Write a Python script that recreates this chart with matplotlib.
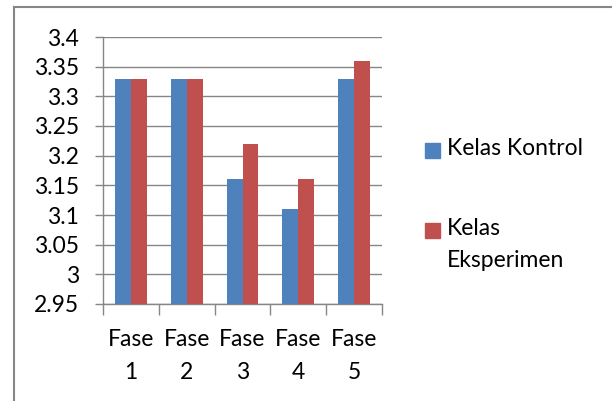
import numpy as np
import matplotlib.pyplot as plt
from matplotlib.lines import Line2D
from matplotlib.patches import Rectangle

# data
categories = ['Fase\n1', 'Fase\n2', 'Fase\n3', 'Fase\n4', 'Fase\n5']
kontrol = [3.33, 3.33, 3.16, 3.11, 3.33]
eksperimen = [3.33, 3.33, 3.22, 3.16, 3.36]
series_names = ['Kelas Kontrol', 'Kelas\nEksperimen']
series_colors = ['#4F81BD', '#C0504D']
y_ticks = [2.95, 3.0, 3.05, 3.1, 3.15, 3.2, 3.25, 3.3, 3.35, 3.4]
y_labels = ['2.95', '3', '3.05', '3.1', '3.15', '3.2', '3.25', '3.3', '3.35', '3.4']

plt.rcParams['font.family'] = ['Lato', 'DejaVu Sans']
grey = '#868686'
fs = 16.5

fig = plt.figure(figsize=(6.12, 4.01), dpi=100)
ax = fig.add_axes([103 / 612, 1 - 304 / 401, 279 / 612, 267 / 401])

x = np.arange(len(categories))
w = 1 / 3.5  # gap width 150%
ax.bar(x - w / 2, kontrol, w, color=series_colors[0], zorder=3)
ax.bar(x + w / 2, eksperimen, w, color=series_colors[1], zorder=3)

ax.set_ylim(2.95, 3.4)
ax.set_xlim(-0.5, len(categories) - 0.5)
ax.set_yticks(y_ticks)
ax.set_yticklabels(y_labels, fontsize=fs)
ax.set_xticks(x)
ax.set_xticklabels(categories, fontsize=fs, linespacing=1.7)
ax.set_xticks(np.arange(len(categories) + 1) - 0.5, minor=True)

ax.yaxis.grid(True, color=grey, linewidth=1, zorder=0)
for s in ['top', 'right']:
    ax.spines[s].set_visible(False)
for s in ['left', 'bottom']:
    ax.spines[s].set_color(grey)
    ax.spines[s].set_linewidth(1)
ax.tick_params(axis='y', length=6, color=grey, width=1, pad=11)
ax.tick_params(axis='x', which='major', length=0, pad=18)
ax.tick_params(axis='x', which='minor', length=8, color=grey, width=1)

# legend drawn by hand: marker sits beside the first text line (Excel style)
W, H = 612, 401
for i, (name, col) in enumerate(zip(series_names, series_colors)):
    yc = 150 + i * 80
    fig.add_artist(Rectangle((425 / W, 1 - (yc + 7.5) / H), 15 / W, 15 / H,
                             transform=fig.transFigure, color=col))
    fig.text(447 / W, 1 - (yc - 12) / H, name, fontsize=fs, va='top',
             ha='left', linespacing=1.65)

# outer chart border (top and left visible)
fig.add_artist(Line2D([14 / W, 1], [1 - 7 / H, 1 - 7 / H],
                      transform=fig.transFigure, color=grey, linewidth=1.5))
fig.add_artist(Line2D([14 / W, 14 / W], [0, 1 - 7 / H],
                      transform=fig.transFigure, color=grey, linewidth=1.5))

fig.savefig('out.png', dpi=100)
